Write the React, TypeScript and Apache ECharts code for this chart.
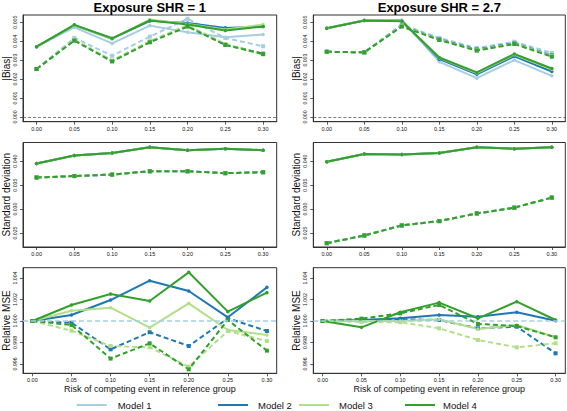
import React, { useEffect, useRef } from "react";
import * as echarts from "echarts";

// ---------- data ----------
const riskLevels = [0, 0.05, 0.1, 0.15, 0.2, 0.25, 0.3];
const modelNames = ["Model 1", "Model 2", "Model 3", "Model 4"];
const modelColors = ["#a6cee3", "#1f78b4", "#b2df8a", "#33a02c"];
const panelTitles = ["Exposure SHR = 1", "Exposure SHR = 2.7"];
const rowNames = ["|Bias|", "Standard deviation", "Relative MSE"];
const xAxisTitle = "Risk of competing event in reference group";
const xTickValues = [0, 0.05, 0.1, 0.15, 0.2, 0.25, 0.3];
const biasTicks = [0, 0.001, 0.002, 0.003, 0.004, 0.005];
const sdTicks = [0.025, 0.03, 0.035, 0.04];
const mseTicks = [0.996, 0.998, 1.0, 1.002, 1.004];
const mseReference = 1;

// |Bias|, SHR = 1 (rows: Model 1..4)
const biasShr1Solid = [
  [0.00371, 0.00473, 0.00388, 0.00482, 0.00447, 0.0042, 0.00435],
  [0.00371, 0.00484, 0.00413, 0.00507, 0.00496, 0.0047, 0.00477],
  [0.00371, 0.00484, 0.00413, 0.00514, 0.0049, 0.00462, 0.00488],
  [0.00371, 0.00486, 0.00415, 0.00509, 0.00488, 0.00456, 0.00477],
];
const biasShr1Dashed = [
  [0.00253, 0.00417, 0.00323, 0.00424, 0.00518, 0.00417, 0.00373],
  [0.00253, 0.00405, 0.00295, 0.00397, 0.0048, 0.00382, 0.00334],
  [0.00253, 0.00408, 0.00298, 0.004, 0.00485, 0.00385, 0.0033],
  [0.00253, 0.00403, 0.00293, 0.00394, 0.00477, 0.0038, 0.00332],
];
// |Bias|, SHR = 2.7
const biasShr27Solid = [
  [0.00468, 0.00509, 0.00512, 0.00291, 0.00205, 0.003, 0.00217],
  [0.00468, 0.00509, 0.00508, 0.00305, 0.00225, 0.0032, 0.0024],
  [0.00468, 0.00511, 0.00506, 0.00312, 0.00232, 0.00328, 0.00252],
  [0.00468, 0.00509, 0.00505, 0.00314, 0.00235, 0.00332, 0.00256],
];
const biasShr27Dashed = [
  [0.00344, 0.00341, 0.00488, 0.00417, 0.00364, 0.00397, 0.00338],
  [0.00344, 0.00341, 0.00482, 0.0041, 0.00356, 0.0039, 0.00325],
  [0.00344, 0.00341, 0.0048, 0.00408, 0.00352, 0.00388, 0.00322],
  [0.00344, 0.00341, 0.00477, 0.00406, 0.0035, 0.00385, 0.00318],
];
// Standard deviation (models overlap)
const sdShr1Solid = [0.0395, 0.0412, 0.0417, 0.0429, 0.0423, 0.0426, 0.0423];
const sdShr1Dashed = [0.0366, 0.0369, 0.0372, 0.0379, 0.0379, 0.0375, 0.0377];
const sdShr27Solid = [0.0399, 0.0415, 0.0414, 0.0417, 0.0429, 0.0426, 0.0429];
const sdShr27Dashed = [0.0229, 0.0245, 0.0266, 0.0275, 0.0291, 0.0303, 0.0324];
// Relative MSE (Model 1 is the reference = 1); rows: Model 2..4
const mseShr1Solid = [
  [1.0, 1.00056, 1.00195, 1.00375, 1.00279, 1.00034, 1.00313],
  [1.0, 1.00096, 1.00124, 0.99938, 1.00164, 0.99916, 0.9987],
  [1.0, 1.00149, 1.00251, 1.00186, 1.00453, 1.00087, 1.00264],
];
const mseShr1Dashed = [
  [1.0, 0.99984, 0.99736, 0.99895, 0.99767, 1.00025, 0.99907],
  [1.0, 0.9991, 0.99767, 0.99755, 0.99575, 0.99907, 0.99814],
  [1.0, 0.99963, 0.9965, 0.99792, 0.9955, 1.00009, 0.99724],
];
const mseShr27Solid = [
  [1.0, 1.00009, 1.00025, 1.00056, 1.0004, 1.00081, 1.00003],
  [1.0, 1.0, 1.0, 1.00016, 0.99926, 0.99963, 0.99848],
  [1.0, 0.99941, 1.00081, 1.00171, 1.00025, 1.0018, 1.00009],
];
const mseShr27Dashed = [
  [1.0, 1.00009, 1.00016, 1.00009, 0.99932, 0.99947, 0.99699],
  [1.0, 0.99991, 0.99988, 0.99932, 0.99823, 0.99755, 0.99792],
  [1.0, 1.00022, 1.00071, 1.00149, 0.99972, 0.99953, 0.99848],
];

// ---------- layout ----------
const FONT = "'Liberation Sans', Arial, Helvetica, sans-serif";
const colBoxes = [
  { left: 22.7, width: 254 },
  { left: 313.3, width: 252 },
];
const rowBoxes = [
  { top: 15, height: 106.7 },
  { top: 142.5, height: 104.5 },
  { top: 267.7, height: 105.6 },
];
const rowXRange = [
  [-0.018, 0.318],
  [-0.018, 0.318],
  [-0.012, 0.3125],
];
const rowYRange = [
  [-0.00025, 0.00538],
  [0.0221, 0.0439],
  [0.99513, 1.00496],
];
const rowYTicks = [biasTicks, sdTicks, mseTicks];

const pts = (arr: number[]) => riskLevels.map((x, i) => [x, arr[i]]);

function buildOption() {
  const grid: any[] = [];
  const xAxis: any[] = [];
  const yAxis: any[] = [];
  const series: any[] = [];

  const panelData = [
    [
      { solid: biasShr1Solid, dashed: biasShr1Dashed },
      { solid: biasShr27Solid, dashed: biasShr27Dashed },
    ],
    [
      {
        solid: [sdShr1Solid, sdShr1Solid, sdShr1Solid, sdShr1Solid],
        dashed: [sdShr1Dashed, sdShr1Dashed, sdShr1Dashed, sdShr1Dashed],
      },
      {
        solid: [sdShr27Solid, sdShr27Solid, sdShr27Solid, sdShr27Solid],
        dashed: [sdShr27Dashed, sdShr27Dashed, sdShr27Dashed, sdShr27Dashed],
      },
    ],
    [
      { solid: [null, ...mseShr1Solid], dashed: [null, ...mseShr1Dashed] },
      { solid: [null, ...mseShr27Solid], dashed: [null, ...mseShr27Dashed] },
    ],
  ];

  for (let r = 0; r < 3; r++) {
    for (let c = 0; c < 2; c++) {
      const gi = r * 2 + c;
      grid.push({
        left: colBoxes[c].left,
        width: colBoxes[c].width,
        top: rowBoxes[r].top,
        height: rowBoxes[r].height,
        show: true,
        borderColor: "#333",
        borderWidth: 1,
        backgroundColor: "transparent",
        containLabel: false,
      });
      xAxis.push({
        type: "value",
        gridIndex: gi,
        min: rowXRange[r][0],
        max: rowXRange[r][1],
        axisLine: { show: true, onZero: false, lineStyle: { color: "#333", width: 1 } },
        axisTick: {
          show: true,
          length: 3,
          customValues: xTickValues,
          lineStyle: { color: "#333", width: 0.8 },
        },
        axisLabel: {
          customValues: xTickValues,
          formatter: (v: number) => v.toFixed(2),
          fontSize: 5.5,
          margin: 4,
          color: "#111",
          fontFamily: FONT,
        },
        splitLine: { show: false },
        name: r === 2 ? xAxisTitle : "",
        nameLocation: "middle",
        nameGap: 10.5,
        nameTextStyle: { fontSize: 9, color: "#111", fontFamily: FONT },
      });
      yAxis.push({
        type: "value",
        gridIndex: gi,
        min: rowYRange[r][0],
        max: rowYRange[r][1],
        axisLine: { show: true, onZero: false, lineStyle: { color: "#333", width: 1 } },
        axisTick: {
          show: true,
          length: 3,
          customValues: rowYTicks[r],
          lineStyle: { color: "#333", width: 0.8 },
        },
        axisLabel: {
          customValues: rowYTicks[r],
          formatter: (v: number) => v.toFixed(3),
          rotate: 90,
          fontSize: 5.2,
          margin: 6,
          color: "#111",
          fontFamily: FONT,
        },
        splitLine: { show: false },
        name: rowNames[r],
        nameLocation: "middle",
        nameGap: 12,
        nameTextStyle: { fontSize: 10, color: "#111", fontFamily: FONT },
      });

      const pd = panelData[r][c];
      for (let m = 0; m < 4; m++) {
        const solid = pd.solid[m];
        const dashed = pd.dashed[m];
        if (solid) {
          const s: any = {
            type: "line",
            name: modelNames[m],
            xAxisIndex: gi,
            yAxisIndex: gi,
            data: pts(solid),
            symbol: "circle",
            symbolSize: 3.5,
            lineStyle: { color: modelColors[m], width: 2, type: "solid" },
            itemStyle: { color: modelColors[m] },
            emphasis: { disabled: true },
          };
          if (r === 0 && m === 0) {
            s.markLine = {
              silent: true,
              symbol: "none",
              label: { show: false },
              lineStyle: { color: "#444", type: [3, 2], width: 0.7 },
              data: [{ yAxis: 0 }],
            };
          }
          if (r === 2 && m === 1) {
            s.markLine = {
              silent: true,
              symbol: "none",
              label: { show: false },
              lineStyle: { color: modelColors[0], type: [5, 3], width: 1.6 },
              data: [{ yAxis: mseReference }],
            };
          }
          series.push(s);
        }
        if (dashed) {
          series.push({
            type: "line",
            name: modelNames[m],
            xAxisIndex: gi,
            yAxisIndex: gi,
            data: pts(dashed),
            symbol: "rect",
            symbolSize: 4,
            lineStyle: { color: modelColors[m], width: 2, type: [5, 3] },
            itemStyle: { color: modelColors[m] },
            emphasis: { disabled: true },
          });
        }
      }
    }
  }

  const legendPos = [
    { left: 76.7, pad: 6 },
    { left: 218, pad: 5 },
    { left: 299, pad: 5 },
    { left: 405, pad: 3 },
  ];
  const legend = modelNames.map((name, i) => ({
    data: [name],
    left: legendPos[i].left,
    top: 400,
    padding: 0,
    icon: "rect",
    itemWidth: 30,
    itemHeight: 2,
    selectedMode: false,
    textStyle: {
      fontSize: 9.5,
      color: "#111",
      fontFamily: FONT,
      padding: [0, 0, 0, legendPos[i].pad],
    },
  }));

  const title = panelTitles.map((t, c) => ({
    text: t,
    left: colBoxes[c].left + colBoxes[c].width / 2,
    top: 0,
    textAlign: "center",
    padding: 0,
    textStyle: {
      fontSize: 13,
      lineHeight: 14,
      fontWeight: "bold",
      color: "#000",
      fontFamily: FONT,
    },
  }));

  return {
    animation: false,
    backgroundColor: "#fff",
    title,
    legend,
    grid,
    xAxis,
    yAxis,
    series,
  };
}

export default function App() {
  const ref = useRef<HTMLDivElement>(null);
  useEffect(() => {
    const chart = echarts.init(ref.current!, null, { renderer: "svg" });
    chart.setOption(buildOption() as any);
    return () => chart.dispose();
  }, []);
  return (
    <div
      ref={ref}
      style={{ position: "absolute", left: 0, top: 0, width: 567, height: 411 }}
    />
  );
}
